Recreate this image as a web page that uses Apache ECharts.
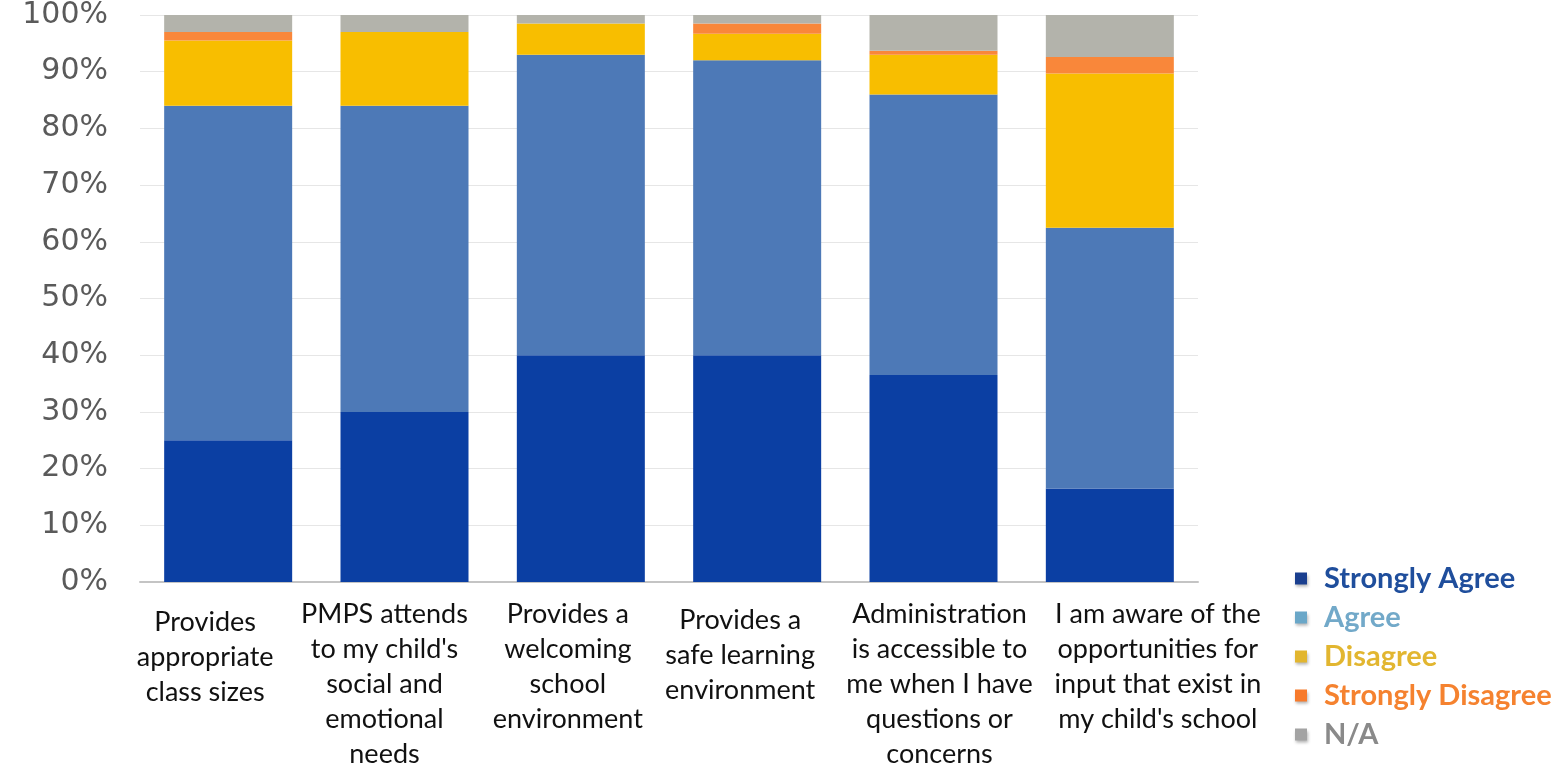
<!DOCTYPE html>
<html>
<head>
<meta charset="utf-8">
<script src="https://cdn.jsdelivr.net/npm/echarts@6/dist/echarts.min.js"></script>
<style>
html,body{margin:0;padding:0;background:#fff;}
#chart{width:1558px;height:767px;}
</style>
</head>
<body>
<div id="chart"></div>
<script>
const categories = [
  "Provides\nappropriate\nclass sizes",
  "PMPS attends\nto my child's\nsocial and\nemotional\nneeds",
  "Provides a\nwelcoming\nschool\nenvironment",
  "Provides a\nsafe learning\nenvironment",
  "Administration\nis accessible to\nme when I have\nquestions or\nconcerns",
  "I am aware of the\nopportunities for\ninput that exist in\nmy child's school"
];
const stronglyAgree    = [25, 30, 40, 40, 36.5, 16.5];
const agree            = [59, 54, 53, 52, 49.5, 46];
const disagree         = [11.5, 13, 5.5, 4.7, 7, 27.2];
const stronglyDisagree = [1.5, 0, 0, 1.8, 0.7, 2.9];
const notApplicable    = [3, 3, 1.5, 1.5, 6.3, 7.4];
const seriesNames = ["Strongly Agree", "Agree", "Disagree", "Strongly Disagree", "N/A"];
const yTicks = [0,10,20,30,40,50,60,70,80,90,100];

// label box paddings (style only): [top, right, bottom, left]
const labelPadding = [[8,46,0,0],[0,40,0,0],[0,26,0,0],[6,34,0,0],[0,0,0,12],[0,0,0,96]];

const barColors    = ["#0b3fa3", "#4d79b7", "#f8be00", "#f9873a", "#b3b3ab"];
const legendIcons  = ["#1a3f8f", "#6aa7c8", "#e2b62f", "#f77a2b", "#a3a3a3"];
const legendTexts  = ["#1f4e9c", "#72a9c9", "#e2b630", "#f5822f", "#8a8a8a"];
const values = [stronglyAgree, agree, disagree, stronglyDisagree, notApplicable];

const chart = echarts.init(document.getElementById('chart'), null, {renderer: 'canvas'});
chart.setOption({
  animation: false,
  backgroundColor: '#ffffff',
  grid: {left: 140, right: 360, top: 15, bottom: 185, containLabel: false, outerBoundsMode: 'none'},
  legend: {
    orient: 'vertical',
    left: 1290,
    top: 559,
    itemWidth: 12,
    itemHeight: 12,
    itemGap: 10,
    icon: 'rect',
    textStyle: {fontFamily: 'Lato', fontWeight: 'bold', fontSize: 29, lineHeight: 29, padding: [0,0,0,12]},
    data: seriesNames.map((n, i) => ({
      name: n,
      itemStyle: {color: legendIcons[i], shadowBlur: 3, shadowColor: 'rgba(0,0,0,0.3)', shadowOffsetX: 1, shadowOffsetY: 2},
      textStyle: {color: legendTexts[i]}
    }))
  },
  xAxis: {
    type: 'category',
    data: categories.map((c, i) => ({value: c, textStyle: {padding: labelPadding[i]}})),
    axisLine: {show: true, lineStyle: {color: '#c4c4c4', width: 2}},
    axisTick: {show: false},
    axisLabel: {
      interval: 0,
      margin: 15,
      color: '#111111',
      fontFamily: 'Lato',
      fontSize: 27,
      lineHeight: 35,
      align: 'center',
      verticalAlign: 'top',
      hideOverlap: false
    }
  },
  yAxis: {
    type: 'value',
    min: 0,
    max: 100,
    interval: 10,
    axisLine: {show: false},
    axisTick: {show: false},
    splitLine: {show: true, lineStyle: {color: '#e6e6e6', width: 1}},
    axisLabel: {
      margin: 32,
      color: '#5a5a5a',
      fontFamily: 'DejaVu Sans',
      fontSize: 30,
      padding: [6,0,0,0],
      formatter: v => yTicks.includes(v) ? v + '%' : ''
    }
  },
  series: seriesNames.map((n, i) => ({
    name: n,
    type: 'bar',
    stack: 'total',
    barWidth: 128,
    data: values[i],
    itemStyle: {color: barColors[i]}
  }))
});
</script>
</body>
</html>
